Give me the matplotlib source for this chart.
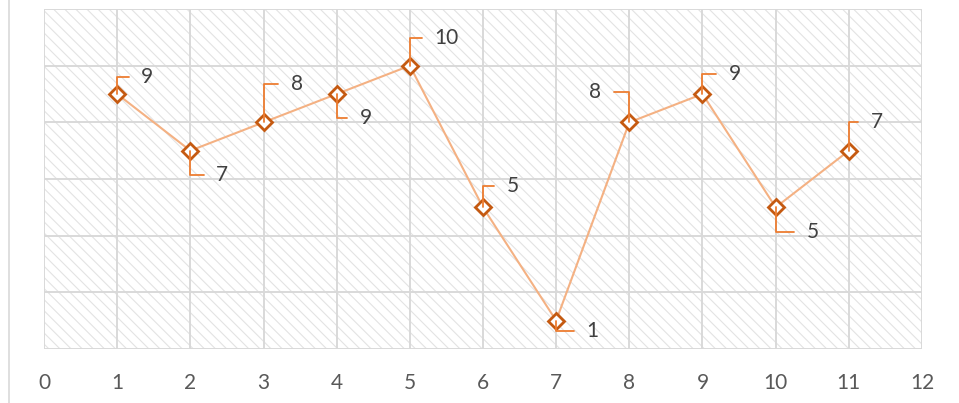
import matplotlib
matplotlib.use("Agg")
import matplotlib.pyplot as plt
from matplotlib.patches import Rectangle
from matplotlib.lines import Line2D

x_vals = [1, 2, 3, 4, 5, 6, 7, 8, 9, 10, 11]
y_vals = [9, 7, 8, 9, 10, 5, 1, 8, 9, 5, 7]
x_ticks = list(range(0, 13))
y_grid = [0, 2, 4, 6, 8, 10, 12]
# label offsets in pixels (dx, dy) relative to each point
label_offsets = [(30, 17), (32, -24), (33, 38), (29, -24), (37, 28), (30, 21),
                 (36, -10), (-34, 30), (32, 20), (37, -25), (28, 29)]

plt.rcParams['font.family'] = ['Lato', 'DejaVu Sans']
plt.rcParams['hatch.linewidth'] = 0.8

W, H = 959, 403
fig = plt.figure(figsize=(W / 100, H / 100), dpi=100)
ax = fig.add_axes([44 / W, 1 - 349 / H, (922 - 44) / W, (349 - 9) / H])
ax.set_xlim(0, 12)
ax.set_ylim(0, 12)

grid_c = '#D9D9D9'
bg = Rectangle((0, 0), 1, 1, transform=ax.transAxes, facecolor='white',
               edgecolor='#E3E3E3', hatch='\\' * 3, linewidth=0, zorder=0)
ax.add_patch(bg)
for xv in x_ticks:
    ax.axvline(xv, color=grid_c, lw=1.4, zorder=1)
for yv in y_grid:
    ax.axhline(yv, color=grid_c, lw=1.4, zorder=1)
for s in ax.spines.values():
    s.set_visible(False)

ax.plot(x_vals, y_vals, color='#F4B183', lw=1.5, zorder=3)
ax.plot(x_vals, y_vals, linestyle='none', marker='D', markersize=8,
        markerfacecolor='white', markeredgecolor='#C55A11', markeredgewidth=2.0, zorder=5)

for xv, yv, (dx, dy) in zip(x_vals, y_vals, label_offsets):
    ax.annotate(str(yv), xy=(xv, yv), xytext=(dx, dy), textcoords='offset pixels',
                ha='center', va='center', fontsize=15, color='#404040', zorder=6,
                arrowprops=dict(arrowstyle='-', color='#ED7D31', lw=1.3,
                                connectionstyle='angle,angleA=0,angleB=90,rad=0',
                                shrinkA=7, shrinkB=0))

ax.set_xticks(x_ticks)
ax.set_xticklabels([str(v) for v in x_ticks])
ax.set_yticks([])
ax.tick_params(axis='x', length=0, pad=17, labelsize=15, labelcolor='#595959')

fig.add_artist(Line2D([9 / W, 9 / W], [0, 1], color='#D9D9D9', lw=1.2))

fig.savefig('out.png', dpi=100)
